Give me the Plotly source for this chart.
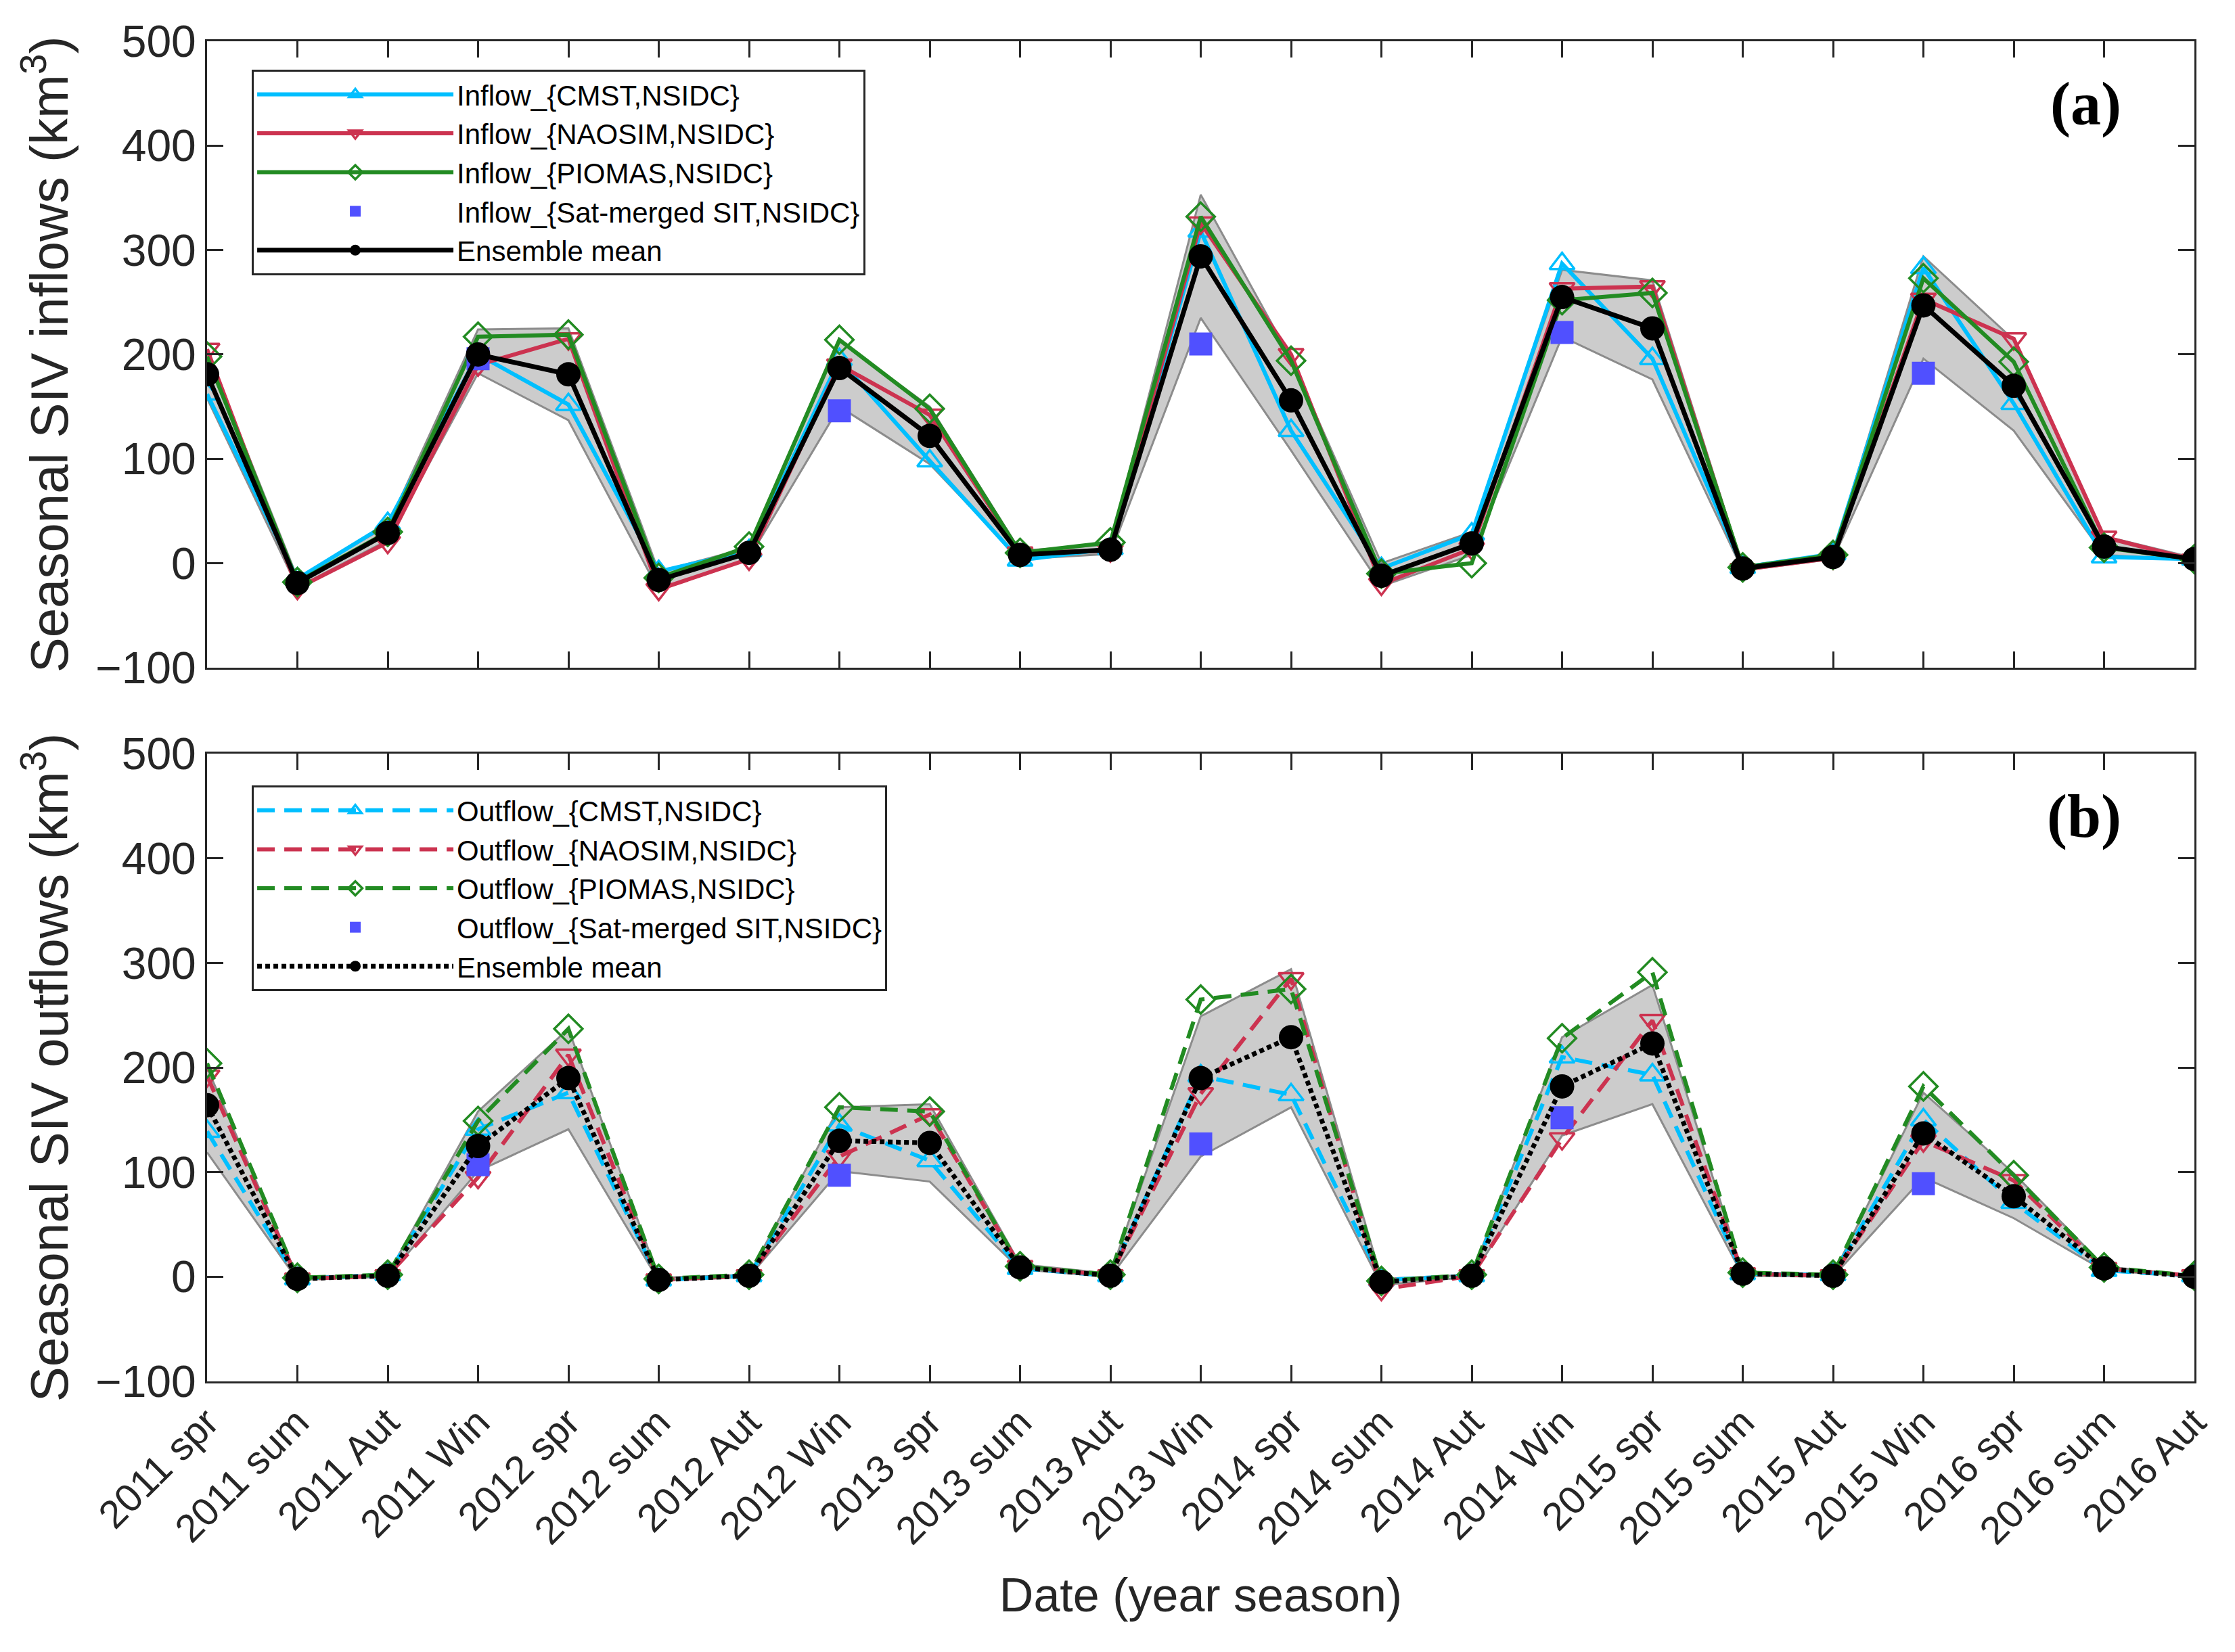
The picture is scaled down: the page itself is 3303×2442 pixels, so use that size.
import plotly.graph_objects as go

# ---------------------------------------
# Data
# ---------------------------------------
seasons = ["2011 spr", "2011 sum", "2011 Aut", "2011 Win", "2012 spr", "2012 sum",
           "2012 Aut", "2012 Win", "2013 spr", "2013 sum", "2013 Aut", "2013 Win",
           "2014 spr", "2014 sum", "2014 Aut", "2014 Win", "2015 spr", "2015 sum",
           "2015 Aut", "2015 Win", "2016 spr", "2016 sum", "2016 Aut"]

# (a) inflows
inflow_cmst = [162, -15, 38, 200, 152, -8, 12, 195, 98, 3, 14, 318, 127, -5, 28, 287,
               196, -4, 9, 283, 153, 6, 4]
inflow_naosim = [205, -24, 20, 190, 215, -25, 4, 190, 142, 10, 12, 326, 200, -20, 14, 263,
                 265, -6, 5, 253, 215, 25, 3]
inflow_piomas = [198, -18, 30, 217, 219, -14, 16, 214, 148, 10, 20, 332, 194, -10, 0, 252,
                 259, -4, 8, 273, 193, 15, 4]
inflow_sat = [None, None, None, 196, None, None, None, 146, None, None, None, 210,
              None, None, None, 221, None, None, None, 182, None, None, None]
inflow_mean = [181, -19, 29, 200, 181, -16, 10, 187, 122, 8, 13, 294, 156, -12, 19, 255,
               225, -5, 6, 247, 170, 16, 4]
inflow_upper = [202, -14, 36, 224, 225, -8, 15, 213, 150, 12, 18, 353, 196, 0, 30, 281,
                271, -3, 9, 294, 214, 26, 5]
inflow_lower = [158, -23, 22, 182, 137, -26, 5, 150, 95, 4, 9, 235, 108, -22, 8, 217,
                176, -7, 4, 196, 127, 8, 3]

# (b) outflows
outflow_cmst = [139, -2, 2, 141, 176, -3, 1, 145, 111, 8, 1, 192, 174, -3, 1, 210,
                193, 3, 2, 150, 71, 6, 1]
outflow_naosim = [192, -2, 1, 95, 212, -3, 1, 115, 155, 10, 1, 175, 285, -12, 1, 132,
                  245, 3, 1, 130, 92, 8, 1]
outflow_piomas = [204, -1, 2, 149, 237, -2, 2, 162, 158, 10, 2, 265, 275, -4, 2, 228,
                  291, 4, 2, 182, 97, 9, 1]
outflow_sat = [None, None, None, 107, None, None, None, 97, None, None, None, 127,
               None, None, None, 152, None, None, None, 89, None, None, None]
outflow_mean = [164, -2, 1, 125, 190, -3, 1, 130, 128, 9, 1, 190, 229, -5, 1, 182,
                223, 3, 1, 137, 77, 8, 0]
outflow_upper = [200, 0, 2, 158, 237, -1, 2, 162, 165, 12, 3, 249, 294, -2, 2, 229,
                 279, 4, 2, 176, 99, 10, 1]
outflow_lower = [119, -3, 0, 101, 141, -4, 0, 101, 91, 7, 0, 115, 162, -8, 0, 135,
                 165, 1, 0, 95, 56, 6, 0]

# ---------------------------------------
# Styles
# ---------------------------------------
CYAN = "#00BFFF"
RED = "#CC3350"
GREEN = "#228B22"
SQUARE = "#5050FF"
FONT = "Liberation Sans, Arial, sans-serif"
SERIF = "Liberation Serif, Times New Roman, serif"
AXC = "#262626"

fig = go.Figure()


def add_panel(xa, ya, leg, upper, lower, cmst, naosim, piomas, sat, mean, prefix, dash, mdash):
    # shaded spread between the products
    fig.add_trace(go.Scatter(x=seasons, y=upper, xaxis=xa, yaxis=ya, mode="lines",
                             line=dict(color="#8C8C8C", width=3), showlegend=False,
                             hoverinfo="skip"))
    fig.add_trace(go.Scatter(x=seasons, y=lower, xaxis=xa, yaxis=ya, mode="lines",
                             line=dict(color="#8C8C8C", width=3), fill="tonexty",
                             fillcolor="#CCCCCC", showlegend=False, hoverinfo="skip"))
    series = [
        (cmst, CYAN, "triangle-up-open", "CMST,NSIDC"),
        (naosim, RED, "triangle-down-open", "NAOSIM,NSIDC"),
        (piomas, GREEN, "diamond-open", "PIOMAS,NSIDC"),
    ]
    for vals, col, sym, nm in series:
        fig.add_trace(go.Scatter(
            x=seasons, y=vals, xaxis=xa, yaxis=ya, legend=leg, mode="lines+markers",
            name=prefix + "_{" + nm + "}",
            line=dict(color=col, width=6, dash=dash),
            marker=dict(symbol=sym, size=32, color=col, line=dict(color=col, width=3.5))))
    fig.add_trace(go.Scatter(
        x=seasons, y=sat, xaxis=xa, yaxis=ya, legend=leg, mode="markers",
        name=prefix + "_{Sat-merged SIT,NSIDC}",
        marker=dict(symbol="square", size=34, color=SQUARE, line=dict(width=0))))
    fig.add_trace(go.Scatter(
        x=seasons, y=mean, xaxis=xa, yaxis=ya, legend=leg, mode="lines+markers",
        name="Ensemble mean",
        line=dict(color="black", width=7, dash=mdash),
        marker=dict(symbol="circle", size=36, color="black")))


add_panel("x", "y", "legend", inflow_upper, inflow_lower, inflow_cmst, inflow_naosim,
          inflow_piomas, inflow_sat, inflow_mean, "Inflow", "solid", "solid")
add_panel("x2", "y2", "legend2", outflow_upper, outflow_lower, outflow_cmst, outflow_naosim,
          outflow_piomas, outflow_sat, outflow_mean, "Outflow", "26px,14px", "7px,5px")

axis_style = dict(showline=True, linewidth=3, linecolor=AXC, mirror="ticks",
                  ticks="inside", ticklen=24, tickwidth=3, tickcolor=AXC,
                  showgrid=False, zeroline=False, automargin=False)
ytick_font = dict(family=FONT, size=66, color=AXC)
xtick_font = dict(family=FONT, size=58, color=AXC)

legend_style = dict(x=0.0225, xanchor="left", yanchor="top", bgcolor="white",
                    bordercolor=AXC, borderwidth=3, traceorder="normal",
                    font=dict(family=FONT, size=42, color="black"),
                    itemwidth=290, tracegroupgap=0)

fig.update_layout(
    width=3303, height=2442,
    margin=dict(l=298, r=68, t=53, b=408),
    plot_bgcolor="white", paper_bgcolor="white",
    showlegend=True,
    xaxis=dict(domain=[0, 1], anchor="y", type="category",
               categoryorder="array", categoryarray=seasons, range=[0, 22],
               showticklabels=False, tickfont=xtick_font, **axis_style),
    yaxis=dict(domain=[0.5326, 1], anchor="x", range=[-100, 500], dtick=100,
               tickfont=ytick_font,
               title=dict(text="Seasonal SIV inflows (km<sup>3</sup>)",
                          font=dict(family=FONT, size=78, color=AXC), standoff=15),
               **axis_style),
    xaxis2=dict(domain=[0, 1], anchor="y2", type="category",
                categoryorder="array", categoryarray=seasons, range=[0, 22],
                tickangle=-45, tickfont=xtick_font,
                title=dict(text="Date (year season)",
                           font=dict(family=FONT, size=70, color=AXC), standoff=40),
                **axis_style),
    yaxis2=dict(domain=[0, 0.4684], anchor="x2", range=[-100, 500], dtick=100,
                tickfont=ytick_font,
                title=dict(text="Seasonal SIV outflows (km<sup>3</sup>)",
                           font=dict(family=FONT, size=78, color=AXC), standoff=15),
                **axis_style),
    legend=dict(y=0.979, **legend_style),
    legend2=dict(y=0.4447, **legend_style),
    annotations=[
        dict(text="<b>(a)</b>", x=0.964, y=440, xref="x domain", yref="y",
             showarrow=False, font=dict(family=SERIF, size=90, color="black")),
        dict(text="<b>(b)</b>", x=0.964, y=440, xref="x2 domain", yref="y2",
             showarrow=False, font=dict(family=SERIF, size=90, color="black")),
    ],
)

fig.write_html("out.html")
